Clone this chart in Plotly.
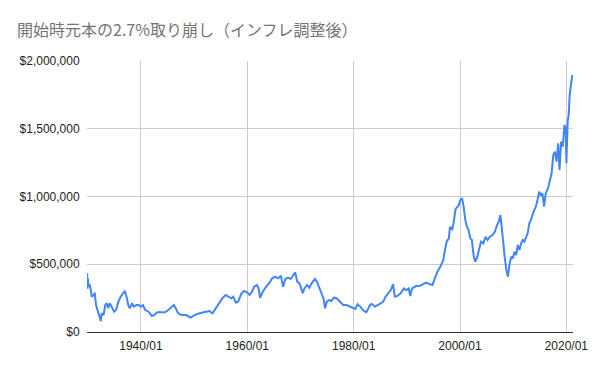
import pandas as pd
import plotly.graph_objects as go

# Decimal years and portfolio values (thousands of USD)
years = [
    1929.88, 1929.95, 1930.02, 1930.13, 1930.30, 1930.50, 1930.75, 1931.12, 1931.30, 1931.55,
    1931.86, 1932.10, 1932.29, 1932.45, 1932.60, 1932.97, 1933.28, 1933.59, 1933.83, 1934.14,
    1934.45, 1934.95, 1935.32, 1935.75, 1936.18, 1936.67, 1936.98, 1937.29, 1937.60, 1937.91,
    1938.34, 1938.65, 1939.14, 1939.57, 1940.01, 1940.38, 1940.81, 1941.43, 1942.04, 1942.48,
    1943.09, 1943.71, 1944.51, 1945.13, 1945.75, 1946.18, 1946.55, 1946.98, 1947.60, 1947.91,
    1948.52, 1949.33, 1950.07, 1950.99, 1951.92, 1952.84, 1953.46, 1954.08, 1954.70, 1955.31,
    1955.93, 1956.55, 1956.98, 1957.35, 1957.84, 1958.28, 1958.83, 1959.33, 1959.94, 1960.44,
    1960.87, 1961.30, 1961.80, 1962.10, 1962.41, 1962.91, 1963.52, 1964.26,
    1964.57, 1965.19, 1965.80, 1966.30, 1966.73, 1967.16, 1967.66, 1968.15, 1968.58, 1969.01,
    1969.38, 1969.82, 1970.43, 1970.74, 1971.24, 1971.67, 1972.10, 1972.72, 1973.09, 1973.52,
    1973.95, 1974.32, 1974.63, 1974.94, 1975.37, 1975.80, 1976.30, 1976.79, 1977.41, 1978.03,
    1978.64, 1979.26, 1979.88, 1980.31, 1980.74, 1981.24, 1981.73, 1982.35, 1982.78, 1983.09,
    1983.40, 1984.02, 1984.76, 1985.56, 1985.99, 1986.49, 1986.98, 1987.42, 1987.73, 1988.22,
    1988.84, 1989.45, 1989.89, 1990.38, 1990.63, 1991.00, 1991.74, 1992.36, 1992.97, 1993.59,
    1994.21, 1994.82, 1995.26, 1995.75, 1996.37, 1996.86, 1997.11, 1997.48, 1997.91, 1998.10,
    1998.53, 1998.84, 1999.15, 1999.58,
    1999.76, 2000.07, 2000.38, 2000.69, 2000.99, 2001.30, 2001.61, 2001.92, 2002.23, 2002.54,
    2002.85, 2003.16, 2003.59, 2003.96, 2004.39, 2004.82, 2005.19, 2005.62, 2006.12, 2006.55,
    2006.98, 2007.29, 2007.60, 2007.78, 2008.09, 2008.40, 2008.71, 2009.02, 2009.33, 2009.64,
    2009.95, 2010.25, 2010.56, 2010.87, 2011.18, 2011.49, 2011.80, 2012.11, 2012.41, 2012.72,
    2013.03, 2013.34, 2013.83, 2014.27, 2014.57,
    2014.88, 2015.19, 2015.50, 2015.81, 2016.12, 2016.55, 2016.92, 2017.23, 2017.54, 2017.85,
    2018.15, 2018.46, 2018.71, 2019.02, 2019.33, 2019.64, 2019.88, 2020.01, 2020.25, 2020.44,
    2020.62, 2020.87, 2021.12,
]
values_k = [
    433, 320, 395, 334, 355, 325, 260, 273, 290, 199,
    162, 140, 101, 80, 138, 125, 199, 212, 175, 212,
    187, 150, 162, 224, 260, 286, 303, 260, 199, 175,
    212, 187, 199, 199, 187, 199, 162, 150, 118, 125,
    145, 145, 145, 162, 187, 199, 175, 138, 125, 125,
    125, 106, 125, 138, 145, 155, 138, 175, 212, 249,
    273, 260, 249, 260, 216, 224, 278, 303, 293, 273,
    297, 334, 347, 322, 253, 297, 334, 367,
    391, 408, 396, 416, 334, 391, 401, 391, 421, 440,
    371, 359, 286, 322, 347, 327, 359, 391, 371, 322,
    286, 249, 175, 224, 236, 229, 253, 249, 224, 199,
    199, 187, 180, 170, 204, 187, 162, 145, 175, 199,
    207, 187, 204, 224, 260, 286, 310, 354, 260, 266,
    286, 322, 310, 322, 266, 322, 339, 339, 354, 364,
    354, 347, 396, 445, 487, 531, 593, 666, 691, 777,
    753, 814, 905, 925,
    937, 974, 987, 925, 827, 777, 753, 691, 679, 568,
    519, 544, 605, 666, 654, 703, 679, 703, 716, 740,
    790, 814, 863, 777, 679, 556, 458, 408, 507, 556,
    544, 593, 568, 642, 605, 654, 679, 666, 703, 728,
    802, 827, 888, 925, 974,
    1035, 1011, 1024, 925, 1024, 1060, 1122, 1171, 1306, 1331,
    1257, 1393, 1196, 1405, 1368, 1528, 1504, 1245, 1552, 1602,
    1749, 1811, 1897,
]

y_ticks = [0, 500000, 1000000, 1500000, 2000000]
y_tick_labels = ["$0", "$500,000", "$1,000,000", "$1,500,000", "$2,000,000"]
x_ticks = ["1940-01-01", "1960-01-01", "1980-01-01", "2000-01-01", "2020-01-01"]
x_tick_labels = ["1940/01", "1960/01", "1980/01", "2000/01", "2020/01"]
title = "開始時元本の2.7%取り崩し（インフレ調整後）"


def to_date(y):
    yr = int(y)
    return pd.Timestamp(year=yr, month=1, day=1) + pd.Timedelta(days=(y - yr) * 365.25)


dates = [to_date(y) for y in years]
values = [v * 1000 for v in values_k]

fig = go.Figure(
    go.Scatter(
        x=dates,
        y=values,
        mode="lines",
        line=dict(color="#4285F4", width=2),
        hoverinfo="x+y",
    )
)

fig.update_layout(
    width=600,
    height=371,
    margin=dict(l=87, r=19, t=61, b=39),
    paper_bgcolor="white",
    plot_bgcolor="white",
    showlegend=False,
    font=dict(family="Liberation Sans, Arial, sans-serif", size=12, color="#222222"),
    title=dict(
        text=title,
        x=17 / 600,
        xref="container",
        xanchor="left",
        y=1 - 30 / 371,
        yref="container",
        yanchor="middle",
        font=dict(family="Noto Sans CJK JP, sans-serif", size=16, color="#757575"),
    ),
)

fig.update_xaxes(
    type="date",
    range=[to_date(1929.85), to_date(2021.25)],
    tickvals=x_ticks,
    ticktext=x_tick_labels,
    showgrid=True,
    gridcolor="#cccccc",
    gridwidth=1,
    showline=True,
    linecolor="#333333",
    linewidth=1,
    ticks="outside",
    ticklen=3,
    tickcolor="rgba(0,0,0,0)",
    zeroline=False,
)

fig.update_yaxes(
    range=[0, 2000000],
    tickvals=y_ticks,
    ticktext=y_tick_labels,
    showgrid=True,
    gridcolor="#cccccc",
    gridwidth=1,
    showline=False,
    zeroline=False,
    ticks="outside",
    ticklen=4,
    tickcolor="rgba(0,0,0,0)",
)

fig.write_html(
    "out.html",
    config={"displayModeBar": False},
    post_script="document.body.style.margin='0';document.body.style.padding='0';",
)
